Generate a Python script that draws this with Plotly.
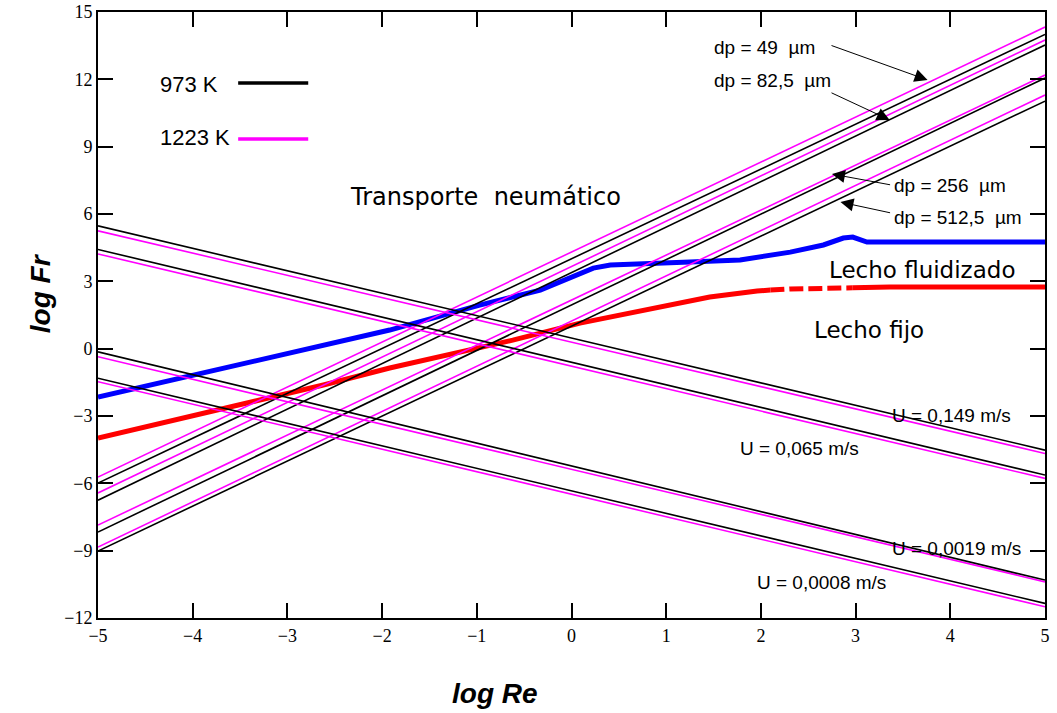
import plotly.graph_objects as go

# Axis extents
x_min, x_max = -5, 5
y_min, y_max = -12, 15

# Constant-particle-size lines (log Fr vs log Re), values at log Re = -5 and 5
dp_labels = ["49", "82,5", "256", "512,5"]
dp_ends_x = [-5, 5]
dp_973 = [[-5.99, 14.00], [-6.75, 13.53], [-8.17, 12.06], [-9.02, 11.03]]
dp_1223 = [[-5.72, 14.33], [-6.43, 13.75], [-7.86, 12.19], [-8.84, 11.30]]

# Constant-velocity lines, values at log Re = -5 and 5
u_labels = ["0,149", "0,065", "0,0019", "0,0008"]
u_ends_x = [-5, 5]
u_973 = [[5.47, -4.52], [4.42, -5.63], [-0.14, -10.31], [-1.32, -11.35]]
u_1223 = [[5.25, -4.67], [4.22, -5.78], [-0.36, -10.39], [-1.47, -11.50]]

# Pneumatic transport boundary
blue_x = [-5.0, -1.92, -0.97, -0.33, 0.23, 0.41, 1.25, 1.78, 2.31, 2.66, 2.87, 2.97, 3.12, 5.0]
blue_y = [-2.16, 0.83, 1.94, 2.61, 3.59, 3.73, 3.86, 3.95, 4.30, 4.62, 4.93, 4.97, 4.75, 4.75]

# Fixed / fluidized bed boundary (middle section drawn dashed)
red_x = [-5.0, -3.50, -2.62, -1.92, -1.31, -0.62, 0.09, 0.80, 1.46, 1.96, 2.10, 2.31, 2.84, 2.97, 3.36, 5.0]
red_y = [-3.98, -2.51, -1.62, -0.86, -0.29, 0.38, 1.14, 1.72, 2.30, 2.57, 2.61, 2.66, 2.70, 2.71, 2.75, 2.75]
red_dash_start, red_dash_end = 10, 13

BLACK = "#000000"
MAGENTA = "#ff00ff"
TXT = "Arial, Liberation Sans, sans-serif"
TXT2 = "DejaVu Sans, sans-serif"

fig = go.Figure()

# Boundary curves
fig.add_trace(go.Scatter(x=blue_x, y=blue_y, mode="lines",
                         line=dict(color="#0000ff", width=5), hoverinfo="skip"))
fig.add_trace(go.Scatter(x=red_x[:red_dash_start + 1], y=red_y[:red_dash_start + 1], mode="lines",
                         line=dict(color="#ff0000", width=5), hoverinfo="skip"))
fig.add_trace(go.Scatter(x=red_x[red_dash_start:red_dash_end + 1], y=red_y[red_dash_start:red_dash_end + 1],
                         mode="lines", line=dict(color="#ff0000", width=5, dash="14px,5px"), hoverinfo="skip"))
fig.add_trace(go.Scatter(x=red_x[red_dash_end:], y=red_y[red_dash_end:], mode="lines",
                         line=dict(color="#ff0000", width=5), hoverinfo="skip"))

# Thin family lines
for vals_hot, vals_cold in zip(dp_1223, dp_973):
    fig.add_trace(go.Scatter(x=dp_ends_x, y=vals_hot, mode="lines",
                             line=dict(color=MAGENTA, width=1.6), hoverinfo="skip"))
    fig.add_trace(go.Scatter(x=dp_ends_x, y=vals_cold, mode="lines",
                             line=dict(color=BLACK, width=1.6), hoverinfo="skip"))
for vals_hot, vals_cold in zip(u_1223, u_973):
    fig.add_trace(go.Scatter(x=u_ends_x, y=vals_hot, mode="lines",
                             line=dict(color=MAGENTA, width=1.6), hoverinfo="skip"))
    fig.add_trace(go.Scatter(x=u_ends_x, y=vals_cold, mode="lines",
                             line=dict(color=BLACK, width=1.6), hoverinfo="skip"))

# Temperature key
fig.add_shape(type="line", x0=-3.52, x1=-2.78, y0=11.84, y1=11.84, line=dict(color=BLACK, width=3.5))
fig.add_shape(type="line", x0=-3.52, x1=-2.78, y0=9.34, y1=9.34, line=dict(color=MAGENTA, width=3.5))

annotations = []


def label(x, y, text, size=15, family=TXT, xanchor="left"):
    annotations.append(dict(x=x, y=y, xref="x", yref="y", text=text, showarrow=False,
                            xanchor=xanchor, yanchor="middle",
                            font=dict(family=family, size=size, color=BLACK)))


label(-4.37, 11.75, "973 K", size=22)
label(-4.37, 9.43, "1223 K", size=22)

nb = "\u00a0"
dp_text_pos = [(1.48, 13.44), (1.48, 11.97), (3.38, 7.29), (3.38, 5.86)]
for (tx, ty), lab in zip(dp_text_pos, dp_labels):
    label(tx, ty, f"dp{nb}={nb}{lab}{nb}{nb}µm", size=19)

# Arrows from the dp labels to their lines: (tail_x, tail_y, head_x, head_y)
dp_arrows = [(2.73, 13.53, 3.76, 11.97), (2.73, 11.43, 3.36, 10.19),
             (3.38, 7.29, 2.75, 7.78), (3.38, 6.04, 2.84, 6.53)]
for tx, ty, hx, hy in dp_arrows:
    annotations.append(dict(x=hx, y=hy, ax=tx, ay=ty, xref="x", yref="y", axref="x", ayref="y",
                            text="", showarrow=True, arrowhead=2, arrowsize=2.6,
                            arrowwidth=1, arrowcolor=BLACK, standoff=0))

u_text_pos = [(3.36, -2.96), (1.76, -4.43), (3.36, -8.89), (1.94, -10.40)]
for (tx, ty), lab in zip(u_text_pos, u_labels):
    label(tx, ty, f"U = {lab} m/s", size=19)

label(-2.36, 6.76, f"Transporte{nb}{nb}neumático", size=24, family=TXT2)
label(2.70, 3.50, "Lecho fluidizado", size=23, family=TXT2)
label(2.54, 0.83, "Lecho fijo", size=23, family=TXT2)

# Axis titles
annotations.append(dict(x=-0.0612, y=0.536, xref="paper", yref="paper", text="<b><i>log Fr</i></b>",
                        showarrow=False, textangle=-90, xanchor="center", yanchor="middle",
                        font=dict(family=TXT, size=28, color=BLACK)))
annotations.append(dict(x=0.419, y=-0.1254, xref="paper", yref="paper", text="<b><i>log Re</i></b>",
                        showarrow=False, xanchor="center", yanchor="middle",
                        font=dict(family=TXT, size=28, color=BLACK)))

axis_common = dict(showgrid=False, zeroline=False, showline=True, linecolor=BLACK, linewidth=2,
                   mirror="ticks", ticks="inside", ticklen=15, tickwidth=2, tickcolor=BLACK,
                   automargin=False,
                   tickfont=dict(family="Times New Roman, Liberation Serif, serif", size=18, color=BLACK))

fig.update_layout(
    width=1057, height=713,
    margin=dict(l=98, r=12, t=12, b=95),
    paper_bgcolor="white", plot_bgcolor="white",
    showlegend=False,
    annotations=annotations,
    xaxis=dict(range=[x_min, x_max], tickmode="linear", tick0=-5, dtick=1, **axis_common),
    yaxis=dict(range=[y_min, y_max], tickmode="linear", tick0=-12, dtick=3, **axis_common),
)

fig.write_html("out.html")
